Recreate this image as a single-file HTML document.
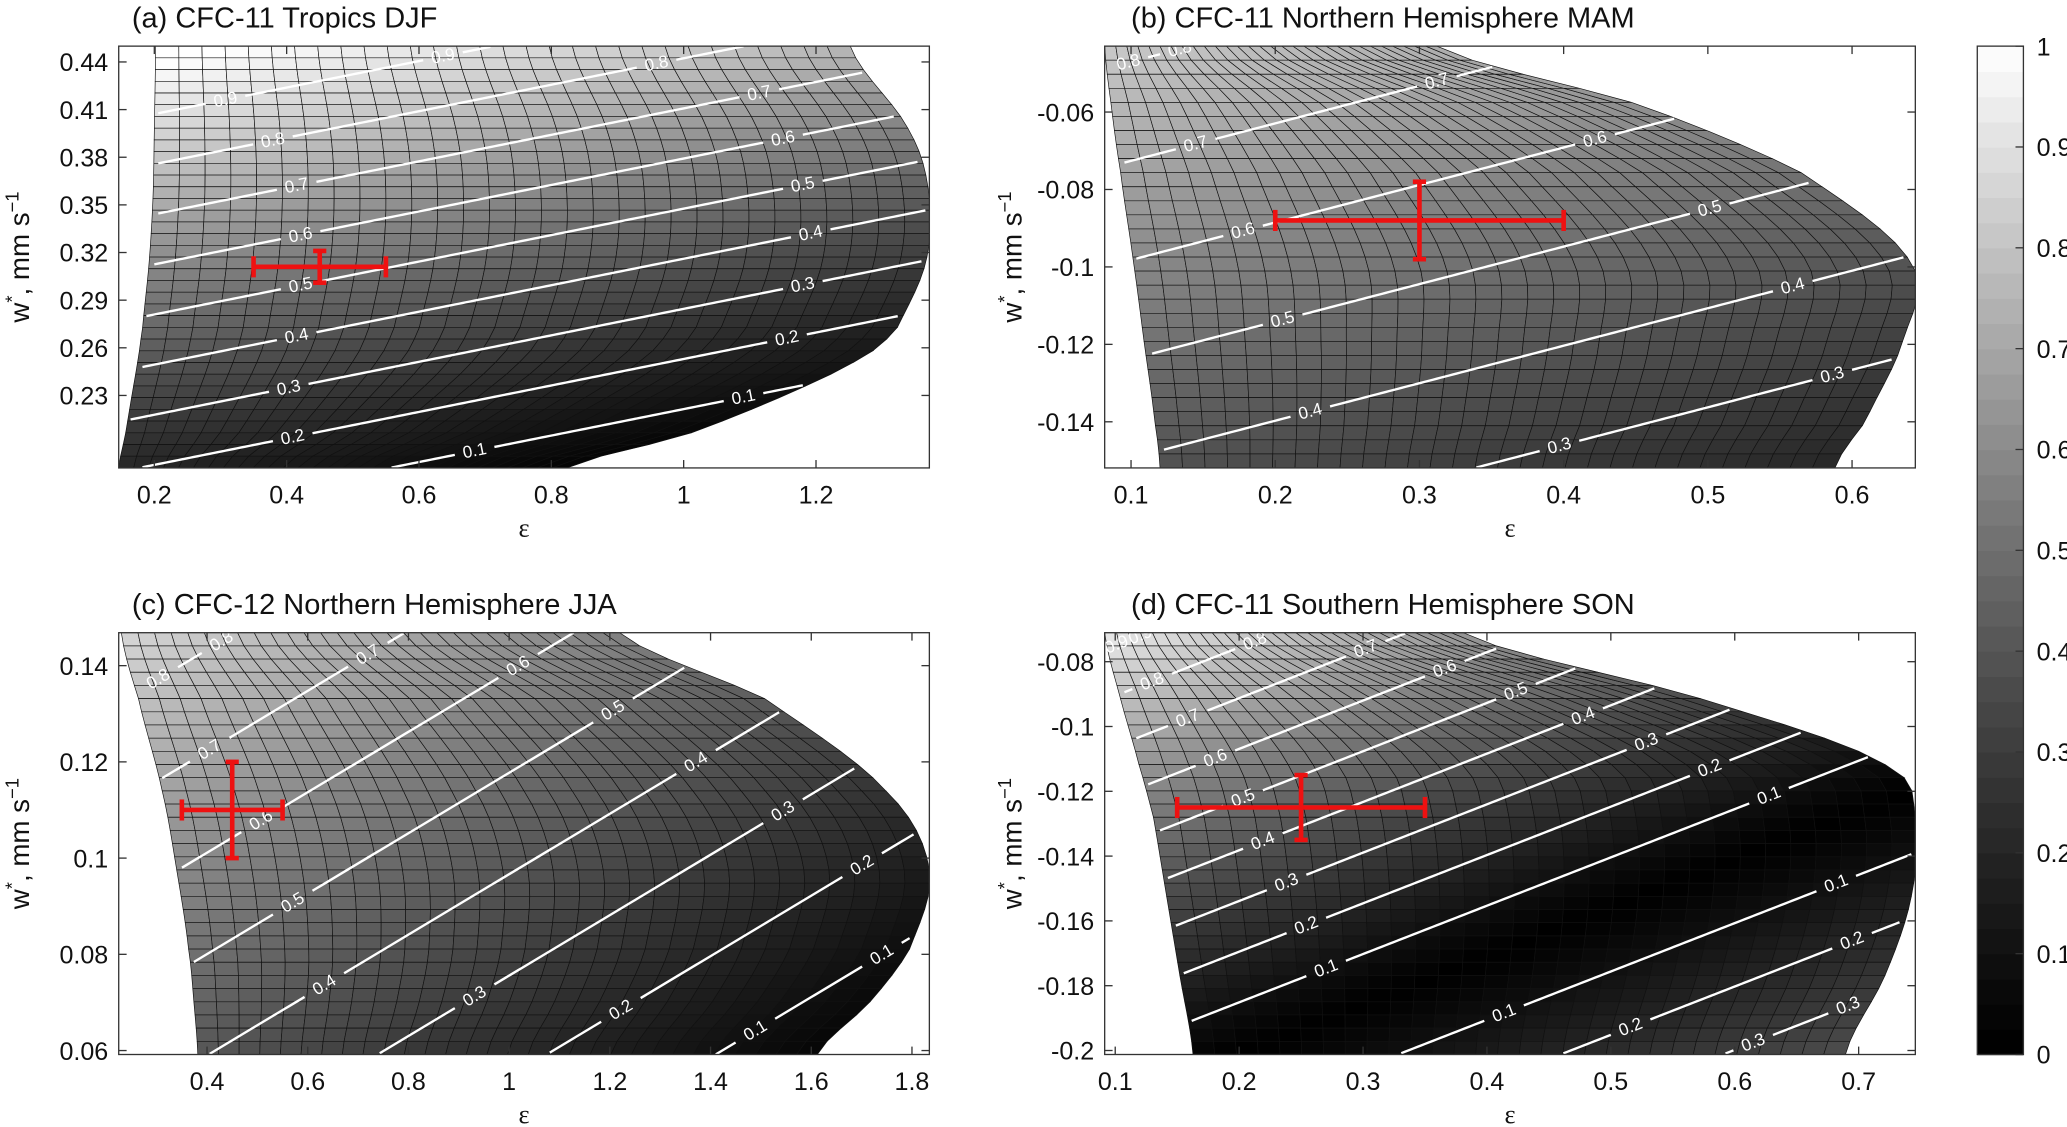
<!DOCTYPE html>
<html><head><meta charset="utf-8"><style>
html,body{margin:0;padding:0;background:#fff;}
svg{display:block;font-family:"Liberation Sans",sans-serif;}
</style></head><body>
<svg id="fig" width="2067" height="1127" viewBox="0 0 1568 855" xmlns="http://www.w3.org/2000/svg"></svg>
<script>
// ---- data ----
const panelTitles = ["(a) CFC-11 Tropics DJF","(b) CFC-11 Northern Hemisphere MAM","(c) CFC-12 Northern Hemisphere JJA","(d) CFC-11 Southern Hemisphere SON"];
const xTicksA = [0.2,0.4,0.6,0.8,1,1.2];
const yTicksA = [0.23,0.26,0.29,0.32,0.35,0.38,0.41,0.44];
const xTicksB = [0.1,0.2,0.3,0.4,0.5,0.6];
const yTicksB = [-0.14,-0.12,-0.1,-0.08,-0.06];
const xTicksC = [0.4,0.6,0.8,1,1.2,1.4,1.6,1.8];
const yTicksC = [0.06,0.08,0.1,0.12,0.14];
const xTicksD = [0.1,0.2,0.3,0.4,0.5,0.6,0.7];
const yTicksD = [-0.2,-0.18,-0.16,-0.14,-0.12,-0.1,-0.08];
const errCenterX = [0.45,0.3,0.45,0.25];
const errCenterY = [0.311,-0.088,0.11,-0.125];
const errHalfX = [0.1,0.1,0.1,0.1];
const errHalfY = [0.01,0.01,0.01,0.01];
const contourLevels = [0.1,0.2,0.3,0.4,0.5,0.6,0.7,0.8,0.9];
const colorbarTicks = [0,0.1,0.2,0.3,0.4,0.5,0.6,0.7,0.8,0.9,1];

const NS="http://www.w3.org/2000/svg";
const svg=document.getElementById('fig');
function mk(tag,attrs,parent){const e=document.createElementNS(NS,tag);for(const k in attrs)e.setAttribute(k,attrs[k]);(parent||svg).appendChild(e);return e;}
function gray(v){v=Math.max(0,Math.min(1,v));const g=Math.round(255*Math.pow(v,1.2));return `rgb(${g},${g},${g})`;}

const panels=[
 {L:90,R:705,T:35,B:355,xt:xTicksA,yt:yTicksA,xa:[0.2,117,502],ya:[0.44,47,-1204.8],
  bnd:[[35,118,645],[100,117,690],[150,116,705],[200,113,702],[250,108,680],[270,105,655],[300,100,595],[330,95,520],[355,90,430]],
  f:{x0:160,y0:230,sl:0.2,k:0.00263,v0:0.5,refl:false},cols:30,rows:36},
 {L:838,R:1453,T:35,B:355,xt:xTicksB,yt:yTicksB,xa:[0.1,858,1094],ya:[-0.06,85,-2937.5],
  bnd:[[35,838,1090],[80,843,1245],[130,850,1365],[200,860,1450],[260,868,1443],[320,876,1415],[355,880,1392]],
  f:{x0:925,y0:255,sl:0.26,k:0.00133,v0:0.5,refl:false},cols:30,rows:30},
 {L:90,R:705,T:480,B:800,xt:xTicksC,yt:yTicksC,xa:[0.4,157,382],ya:[0.14,505,-3650],
  bnd:[[480,92,470],[530,105,580],[600,123,672],[660,134,705],[720,143,690],[760,147,660],[800,150,620]],
  f:{x0:330,y0:620,sl:0.6,k:0.0013,v0:0.5,refl:false},cols:30,rows:32},
 {L:838,R:1453,T:480,B:800,xt:xTicksD,yt:yTicksD,xa:[0.1,846,940],ya:[-0.08,502,-2458],
  bnd:[[480,838,1110],[530,850,1290],[580,864,1430],[620,875,1453],[680,885,1450],[740,895,1430],[800,905,1400]],
  f:{x0:880,y0:630,sl:0.39,k:0.0026,v0:0.5,refl:true},cols:30,rows:32}
];

function cr(p0,p1,p2,p3,t){return 0.5*((2*p1)+(-p0+p2)*t+(2*p0-5*p1+4*p2-p3)*t*t+(-p0+3*p1-3*p2+p3)*t*t*t);}
function edge(p,y){const b=p.bnd,n=b.length;if(y<=b[0][0])return [b[0][1],b[0][2]];if(y>=b[n-1][0])return [b[n-1][1],b[n-1][2]];
 for(let i=1;i<n;i++){if(y<=b[i][0]){const t=(y-b[i-1][0])/(b[i][0]-b[i-1][0]);
  const a=b[Math.max(0,i-2)],q1=b[i-1],q2=b[i],d=b[Math.min(n-1,i+1)];
  return [cr(a[1],q1[1],q2[1],d[1],t),cr(a[2],q1[2],q2[2],d[2],t)];}}}
function sval(p,x,y){const f=p.f;return f.v0-f.k*(y-f.y0+f.sl*(x-f.x0));}
function val(p,x,y){let s=sval(p,x,y);if(p.f.refl&&s<0)s=-s*0.8;return s;}
function fmt(v){return (Math.round(v*100)/100).toString();}

panels.forEach((p,pi)=>{
 const g=mk('g',{});
 
 
 const cid='clip'+pi;
 const cp=mk('clipPath',{id:cid},g);mk('rect',{x:p.L,y:p.T,width:p.R-p.L,height:p.B-p.T},cp);
 const mesh=mk('g',{'clip-path':`url(#${cid})`},g);
 
 
 const H=p.B-p.T;
 for(let r=0;r<p.rows;r++){
  const y0=p.T+H*r/p.rows,y1=p.T+H*(r+1)/p.rows;
  const e0=edge(p,y0),e1=edge(p,y1);
  for(let c=0;c<p.cols;c++){
   const u0=c/p.cols,u1=(c+1)/p.cols;
   const xa0=e0[0]+u0*(e0[1]-e0[0]),xb0=e0[0]+u1*(e0[1]-e0[0]);
   const xa1=e1[0]+u0*(e1[1]-e1[0]),xb1=e1[0]+u1*(e1[1]-e1[0]);
   const v=val(p,(xa0+xb1)/2,(y0+y1)/2);
   const cell=mk('polygon',{points:`${xa0},${y0} ${xb0},${y0} ${xb1},${y1} ${xa1},${y1}`,fill:gray(v),stroke:'#111','stroke-width':0.5},mesh);
   
   
  }
 }
 const cg=mk('g',{'clip-path':`url(#${cid})`},g);
 
 
 const sLevels=[];contourLevels.forEach(L=>{sLevels.push([L,L]);if(p.f.refl)sLevels.push([-L/0.8,L]);});
 sLevels.forEach(([S,L])=>{
  const pts=[];
  for(let x=p.L;x<=p.R;x+=3){const y=p.f.y0-p.f.sl*(x-p.f.x0)+(p.f.v0-S)/p.f.k;
   if(y<p.T||y>p.B)continue;const e=edge(p,y);if(x<e[0]+2||x>e[1]-2)continue;pts.push([x,y]);}
  if(pts.length<6)return;
  const labs=[pts[Math.floor(pts.length*0.2)],pts[Math.floor(pts.length*0.85)]];
  let seg=[];const segs=[];
  pts.forEach(q=>{const near=labs.some(l=>Math.hypot(q[0]-l[0],q[1]-l[1])<14);if(near){if(seg.length>1)segs.push(seg);seg=[];}else seg.push(q);});
  if(seg.length>1)segs.push(seg);
  segs.forEach(s=>{const pl=mk('polyline',{points:s.map(q=>q.join(',')).join(' '),fill:'none',stroke:'#fff','stroke-width':1.8},cg);
   
   });
  const ang=-Math.atan(p.f.sl)*180/Math.PI;
  labs.forEach(l=>{const t=mk('text',{x:l[0],y:l[1]+4,fill:'#fff','font-size':13,'text-anchor':'middle',transform:`rotate(${ang} ${l[0]} ${l[1]})`},cg);t.textContent=fmt(L);
   
   });
 });
 const fr=mk('rect',{x:p.L,y:p.T,width:p.R-p.L,height:p.B-p.T,fill:'none',stroke:'#333','stroke-width':1},g);
 
 
 const X=v=>p.xa[1]+(v-p.xa[0])*p.xa[2];
 const Y=v=>p.ya[1]+(v-p.ya[0])*p.ya[2];
 p.xt.forEach(v=>{const x=X(v);
  mk('line',{x1:x,y1:p.B,x2:x,y2:p.B-6,stroke:'#333'},g);mk('line',{x1:x,y1:p.T,x2:x,y2:p.T+6,stroke:'#333'},g);
  const t=mk('text',{x:x,y:p.B+27,'font-size':19,'text-anchor':'middle',fill:'#111'},g);t.textContent=fmt(v);
  
  });
 p.yt.forEach(v=>{const y=Y(v);
  mk('line',{x1:p.L,y1:y,x2:p.L+6,y2:y,stroke:'#333'},g);mk('line',{x1:p.R,y1:y,x2:p.R-6,y2:y,stroke:'#333'},g);
  const t=mk('text',{x:p.L-8,y:y+7,'font-size':19,'text-anchor':'end',fill:'#111'},g);t.textContent=fmt(v);
  
  });
 const tt=mk('text',{x:p.L+10+(pi%2?10:0),y:p.T-14,'font-size':22,fill:'#111'},g);tt.textContent=panelTitles[pi];
 
 
 const xl=mk('text',{x:(p.L+p.R)/2,y:p.B+52,'font-size':20,'text-anchor':'middle',fill:'#111','font-family':'Liberation Serif'},g);xl.textContent='ε';
 
 
 const yx=p.L-(pi%2? 63:68), yy=(p.T+p.B)/2;
 const yl=mk('text',{x:yx,y:yy,'font-size':21,'text-anchor':'middle',fill:'#111',transform:`rotate(-90 ${yx} ${yy})`},g);
 yl.innerHTML='w<tspan dy="-8" font-size="14">*</tspan><tspan dy="8">, mm s</tspan><tspan dy="-8" font-size="14">−1</tspan>';
 
 
 const eg=mk('g',{stroke:'#ee1111','stroke-width':3.5,fill:'none'},g);
 
 
 const cx=X(errCenterX[pi]),cy=Y(errCenterY[pi]);
 const x0=X(errCenterX[pi]-errHalfX[pi]),x1=X(errCenterX[pi]+errHalfX[pi]);
 const y0=Y(errCenterY[pi]-errHalfY[pi]),y1=Y(errCenterY[pi]+errHalfY[pi]);
 mk('line',{x1:x0,y1:cy,x2:x1,y2:cy},eg);mk('line',{x1:x0,y1:cy-8,x2:x0,y2:cy+8},eg);mk('line',{x1:x1,y1:cy-8,x2:x1,y2:cy+8},eg);
 mk('line',{x1:cx,y1:y0,x2:cx,y2:y1},eg);mk('line',{x1:cx-5,y1:y0,x2:cx+5,y2:y0},eg);mk('line',{x1:cx-5,y1:y1,x2:cx+5,y2:y1},eg);
});
const cb=mk('g',{});


const cbT=35,cbB=800,cbL=1500,cbR=1535,nb=40;
for(let i=0;i<nb;i++){const y=cbB-(cbB-cbT)*(i+1)/nb;mk('rect',{x:cbL,y:y,width:cbR-cbL,height:(cbB-cbT)/nb+0.5,fill:gray((i+0.5)/nb)},cb);}
mk('rect',{x:cbL,y:cbT,width:cbR-cbL,height:cbB-cbT,fill:'none',stroke:'#333'},cb);
colorbarTicks.forEach(v=>{const y=cbB-(cbB-cbT)*v;mk('line',{x1:cbR-6,y1:y,x2:cbR,y2:y,stroke:'#333'},cb);
 const t=mk('text',{x:cbR+10,y:y+7,'font-size':19,fill:'#111'},cb);t.textContent=fmt(v);
 
 });
</script>
</body></html>
